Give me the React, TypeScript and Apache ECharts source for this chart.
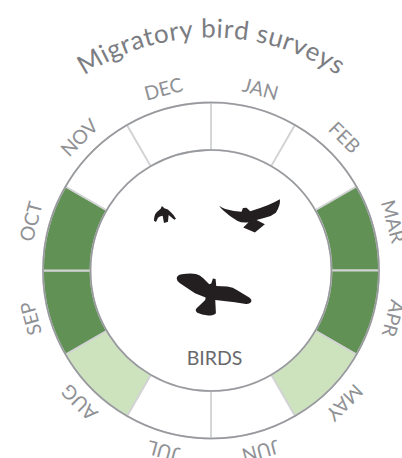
import React, { useEffect, useRef } from "react";
import * as echarts from "echarts";

const months = ["JAN", "FEB", "MAR", "APR", "MAY", "JUN", "JUL", "AUG", "SEP", "OCT", "NOV", "DEC"];
const shares = [1, 1, 1, 1, 1, 1, 1, 1, 1, 1, 1, 1];
const levels = [0, 0, 2, 2, 1, 0, 0, 1, 2, 2, 0, 0];
const levelColors = ["#ffffff", "#cde3bd", "#619155"];
const titleText = "Migratory bird surveys";
const centerText = "BIRDS";

const CX = 211;
const CY = 270.5;
const R_OUT = 168;
const R_IN = 120.5;
const FONT = "Lato, 'Open Sans', sans-serif";

const birdBig =
  "M110 280 Q112 270 125 268 Q150 264 168 267 Q180 270 190 280 L208 298 L214 296 L219 281 L227 282 L229 303 L262 305 Q280 307 292 316 L328 338 Q338 346 333 352 Q328 358 318 357 L285 352 L226 345 L228 385 Q222 392 205 392 Q185 390 172 384 Q164 376 170 370 L196 345 L197 338 L165 325 L120 295 Q110 288 110 280 Z";
const birdMid =
  "M238 62 Q245 68 256 72 L282 78 L305 80 L309 69 L320 68 L331 79 Q360 70 385 60 Q405 52 420 43 Q423 60 408 83 Q395 94 375 98 L350 105 L375 118 L345 143 L310 128 L326 112 Q305 114 293 108 Q270 95 252 78 Q242 70 238 62 Z";
const birdSmall =
  "M42 107 Q42 90 50 82 L62 71 L66 63 L73 70 Q85 72 92 81 Q102 90 108 101 L103 104 L86 90 L84 110 L72 114 L68 92 Q58 93 54 98 L48 111 Z";

echarts.graphic.registerShape("birdBig", echarts.graphic.extendPath(birdBig, {}));
echarts.graphic.registerShape("birdMid", echarts.graphic.extendPath(birdMid, {}));
echarts.graphic.registerShape("birdSmall", echarts.graphic.extendPath(birdSmall, {}));

function curvedTitle() {
  const font = `400 26px ${FONT}`;
  const ctx = document.createElement("canvas").getContext("2d")!;
  ctx.font = font;
  const chars = Array.from(titleText);
  const radius = 241;
  const spacing = 1.0;
  const widths = chars.map((c) => ctx.measureText(c).width + spacing);
  const total = widths.reduce((a, b) => a + b, 0);
  let run = -total / 2;
  return chars.map((c, i) => {
    const mid = run + widths[i] / 2;
    run += widths[i];
    const a = mid / radius;
    return {
      type: "text",
      x: CX + radius * Math.sin(a),
      y: CY - 2 - radius * Math.cos(a),
      rotation: -a,
      z: 20,
      style: { text: c, font, fill: "#7b7d82", align: "center", verticalAlign: "middle" },
    };
  });
}

function monthLabels() {
  const radius = 188;
  return months.map((m, i) => {
    const a = ((i * 30 + 15) * Math.PI) / 180;
    return {
      type: "text",
      x: CX + 1 + radius * Math.sin(a),
      y: CY - 0.5 - radius * Math.cos(a),
      rotation: -a,
      z: 20,
      style: { text: m, font: `400 19.5px ${FONT}`, fill: "#8f9195", align: "center", verticalAlign: "middle" },
    };
  });
}

export default function App() {
  const ref = useRef<HTMLDivElement>(null);
  useEffect(() => {
    const chart = echarts.init(ref.current!, null, { renderer: "svg" });
    const ring = (r: number) => ({
      type: "circle",
      shape: { cx: CX, cy: CY, r },
      z: 15,
      style: { fill: "none", stroke: "#97999d", lineWidth: 1.6 },
    });
    const bird = (type: string) => ({
      type,
      x: 140,
      y: 185,
      scaleX: 1 / 3,
      scaleY: 1 / 3,
      z: 16,
      style: { fill: "#231f20" },
    });
    chart.setOption({
      animation: false,
      backgroundColor: "#ffffff",
      series: [
        {
          type: "pie",
          center: [CX, CY],
          radius: [R_IN, R_OUT],
          startAngle: 90,
          clockwise: true,
          silent: true,
          label: { show: false },
          labelLine: { show: false },
          itemStyle: { borderColor: "#d2d3d4", borderWidth: 1.8 },
          data: months.map((name, i) => ({
            name,
            value: shares[i],
            itemStyle: { color: levelColors[levels[i]] },
          })),
        },
      ],
      graphic: [
        ring(R_OUT),
        ring(R_IN),
        bird("birdBig"),
        bird("birdMid"),
        bird("birdSmall"),
        ...monthLabels(),
        ...curvedTitle(),
        {
          type: "text",
          x: 214.5,
          y: 357,
          z: 20,
          style: { text: centerText, font: `400 19.5px ${FONT}`, fill: "#69696b", align: "center", verticalAlign: "middle" },
        },
      ],
    });
    return () => chart.dispose();
  }, []);
  return <div ref={ref} style={{ position: "fixed", left: 0, top: 0, width: 402, height: 458 }} />;
}
